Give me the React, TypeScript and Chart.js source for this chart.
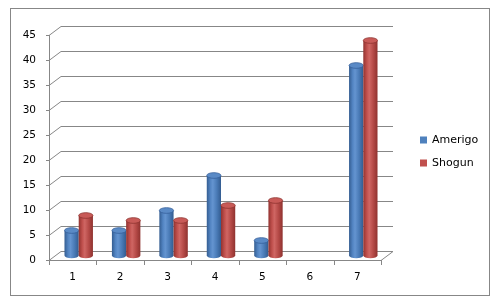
import React, { useEffect, useRef } from "react";
import { Chart, registerables } from "chart.js";

Chart.register(...registerables);

const categories = ["1", "2", "3", "4", "5", "6", "7"];
const amerigo: (number | null)[] = [5, 5, 9, 16, 3, null, 38];
const shogun: (number | null)[] = [8, 7, 7, 10, 11, null, 43];
const seriesNames = ["Amerigo", "Shogun"];
const seriesColors = ["#4F81BD", "#C0504D"];
const yTicks = [0, 5, 10, 15, 20, 25, 30, 35, 40, 45];

const DX = 12;
const DY = -9;
const LINE = "#878787";
const FONT = "DejaVu Sans";

const cyl: Record<string, string[]> = {
  "#4F81BD": ["#345d91", "#5284c2", "#6494d0", "#4a7bb7", "#335c90"],
  "#C0504D": ["#923330", "#c0504d", "#cf6663", "#b54a47", "#8f322f"],
};
const capCol: Record<string, [string, string]> = {
  "#4F81BD": ["#5a8ac6", "#36609a"],
  "#C0504D": ["#c85a57", "#8e3330"],
};

const px = (v: number) => Math.round(v) + 0.5;

const threeD = {
  id: "threeD",
  beforeDraw(chart: any) {
    const ctx = chart.ctx;
    ctx.save();
    ctx.fillStyle = "#ffffff";
    ctx.fillRect(0, 0, chart.width, chart.height);
    ctx.strokeStyle = LINE;
    ctx.lineWidth = 1;
    ctx.strokeRect(10.5, 8.5, 479, 287);
    ctx.restore();
  },
  beforeDatasetsDraw(chart: any) {
    const ctx = chart.ctx;
    const { left, right, top, bottom } = chart.chartArea;
    const ys = chart.scales.y;
    ctx.save();
    ctx.strokeStyle = LINE;
    ctx.lineWidth = 1;
    yTicks.forEach((v) => {
      const yf = ys.getPixelForValue(v);
      ctx.beginPath();
      ctx.moveTo(left, px(yf));
      ctx.lineTo(left + DX, px(yf + DY));
      ctx.lineTo(right + DX, px(yf + DY));
      ctx.stroke();
      ctx.beginPath();
      ctx.moveTo(left - 3, px(yf));
      ctx.lineTo(left, px(yf));
      ctx.stroke();
    });
    ctx.beginPath();
    ctx.moveTo(px(left), top);
    ctx.lineTo(px(left), bottom);
    ctx.stroke();
    ctx.beginPath();
    ctx.moveTo(left, px(bottom));
    ctx.lineTo(right, px(bottom));
    ctx.lineTo(right + DX, px(bottom + DY));
    ctx.stroke();
    const n = categories.length;
    const w = (right - left) / n;
    for (let i = 0; i <= n; i++) {
      const x = px(left + i * w);
      ctx.beginPath();
      ctx.moveTo(x, bottom);
      ctx.lineTo(x, bottom + 5);
      ctx.stroke();
    }
    chart.data.datasets.forEach((ds: any, di: number) => {
      const meta = chart.getDatasetMeta(di);
      const color = seriesColors[di];
      meta.data.forEach((el: any, i: number) => {
        if (ds.data[i] == null) return;
        const p = el.getProps(["x", "y", "base", "width"], true);
        const cx = p.x + DX / 2;
        const w2 = p.width / 2;
        const yt = p.y + DY / 2;
        const yb = p.base + DY / 2;
        const ry = p.width * 0.2;
        const stops = cyl[color];
        const g = ctx.createLinearGradient(cx - w2, 0, cx + w2, 0);
        g.addColorStop(0, stops[0]);
        g.addColorStop(0.25, stops[1]);
        g.addColorStop(0.42, stops[2]);
        g.addColorStop(0.7, stops[3]);
        g.addColorStop(1, stops[4]);
        ctx.beginPath();
        ctx.moveTo(cx - w2, yt);
        ctx.lineTo(cx - w2, yb);
        ctx.ellipse(cx, yb, w2, ry, 0, Math.PI, 0, true);
        ctx.lineTo(cx + w2, yt);
        ctx.closePath();
        ctx.fillStyle = g;
        ctx.fill();
        ctx.beginPath();
        ctx.ellipse(cx, yt, w2, ry, 0, 0, Math.PI * 2);
        ctx.fillStyle = capCol[color][0];
        ctx.fill();
        ctx.strokeStyle = capCol[color][1];
        ctx.lineWidth = 0.8;
        ctx.stroke();
      });
    });
    ctx.restore();
    return false;
  },
  afterDraw(chart: any) {
    const ctx = chart.ctx;
    ctx.save();
    ctx.font = `11px "${FONT}"`;
    ctx.textBaseline = "middle";
    ctx.textAlign = "left";
    chart.data.datasets.forEach((ds: any, di: number) => {
      const y = 140 + di * 23;
      ctx.fillStyle = seriesColors[di];
      ctx.fillRect(420, y - 3.5, 7, 7);
      ctx.fillStyle = "#000000";
      ctx.fillText(ds.label, 432, y);
    });
    ctx.restore();
  },
};

export default function App() {
  const ref = useRef<HTMLCanvasElement>(null);
  useEffect(() => {
    if (!ref.current) return;
    const chart = new Chart(ref.current, {
      type: "bar",
      data: {
        labels: categories,
        datasets: [
          { label: seriesNames[0], data: amerigo, backgroundColor: seriesColors[0] },
          { label: seriesNames[1], data: shogun, backgroundColor: seriesColors[1] },
        ],
      },
      options: {
        animation: false,
        responsive: false,
        events: [],
        layout: { padding: { left: 0, top: 35, right: 119, bottom: 0 } },
        datasets: { bar: { categoryPercentage: 0.6, barPercentage: 1.0 } },
        plugins: { legend: { display: false }, tooltip: { enabled: false } },
        scales: {
          x: {
            grid: { display: false, drawTicks: false },
            border: { display: false },
            ticks: { padding: 11, color: "#000", font: { family: FONT, size: 10.5 } },
            afterFit: (s: any) => {
              s.height = 45;
            },
          },
          y: {
            min: 0,
            max: 45,
            grid: { display: false, drawTicks: false },
            border: { display: false },
            ticks: { stepSize: 5, padding: 13, color: "#000", font: { family: FONT, size: 10.5 } },
            afterFit: (s: any) => {
              s.width = 49;
            },
          },
        },
      },
      plugins: [threeD],
    });
    return () => chart.destroy();
  }, []);
  return (
    <div style={{ position: "fixed", left: 0, top: 0, width: 500, height: 305 }}>
      <canvas ref={ref} width={500} height={305} style={{ width: 500, height: 305 }} />
    </div>
  );
}
